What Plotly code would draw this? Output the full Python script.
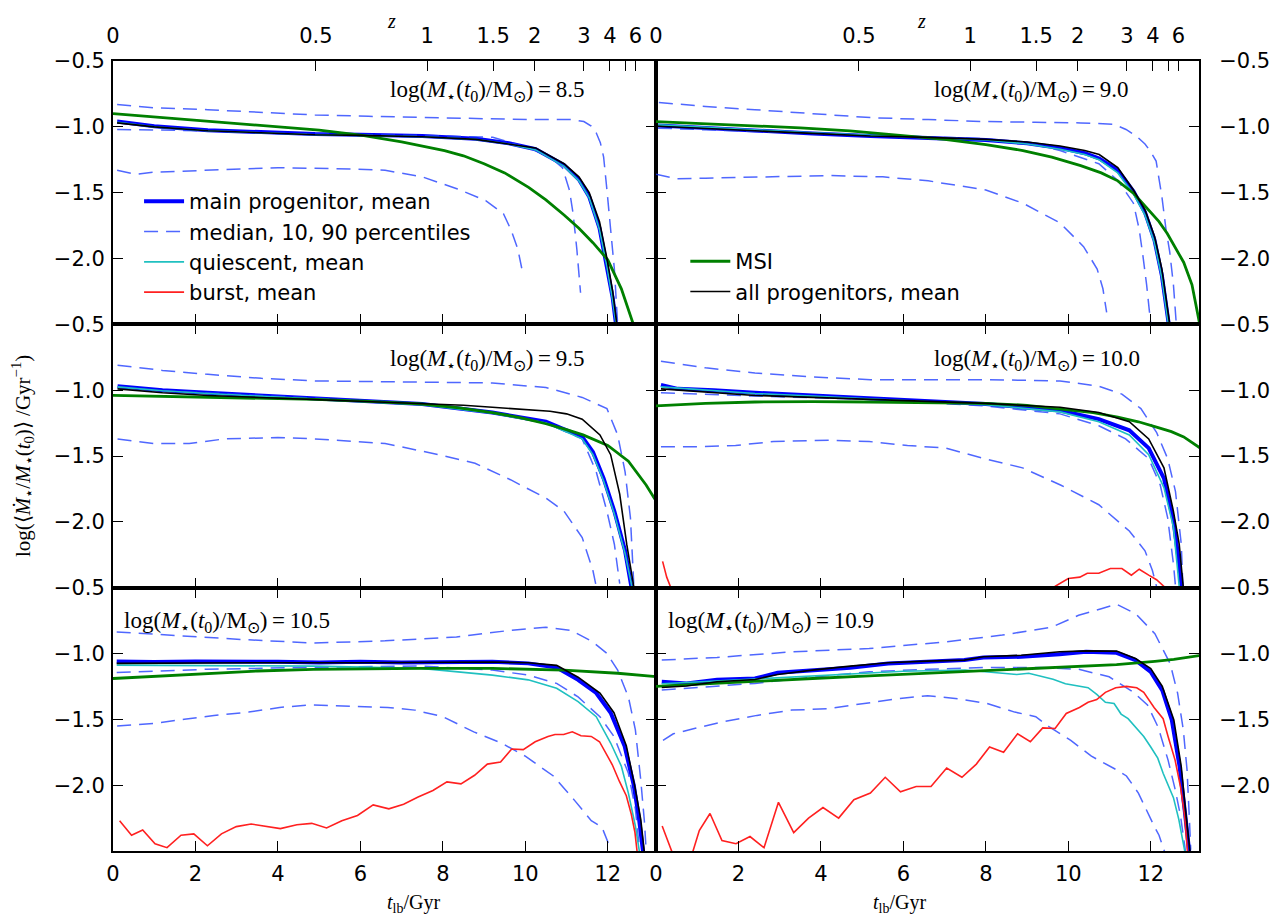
import plotly.graph_objects as go
from plotly.subplots import make_subplots

# ---------------- data ----------------
MASS_LABELS = ["8.5", "9.0", "9.5", "10.0", "10.5", "10.9"]
Z_LABELS = ["0", "0.5", "1", "1.5", "2", "3", "4", "", "6"]
Z_LOOKBACK = [0.0, 4.92, 7.62, 9.22, 10.23, 11.42, 12.05, 12.43, 12.67]
X_TICKS = [0, 2, 4, 6, 8, 10, 12]
Y_TICKS = [-2.0, -1.5, -1.0, -0.5]
Y_TICK_TEXT = ["\u22122.0", "\u22121.5", "\u22121.0", "\u22120.5"]

# ---- log M = 8.5 ----
T_MAIN_85 = [0.1, 1.0, 2.3, 3.5, 4.9, 6.0, 7.5, 8.8, 9.6, 10.25, 10.94, 11.3, 11.55, 11.8, 11.98, 12.12, 12.22, 12.3]
Y_MAIN_85 = [-0.96, -0.995, -1.025, -1.04, -1.055, -1.06, -1.07, -1.09, -1.125, -1.17, -1.29, -1.4, -1.53, -1.77, -2.05, -2.3, -2.55, -2.7]
Y_QUI_85 = [-0.965, -1.0, -1.03, -1.045, -1.06, -1.065, -1.075, -1.095, -1.13, -1.175, -1.3, -1.41, -1.54, -1.78, -2.06, -2.32, -2.57, -2.72]
Y_ALL_85 = [-0.97, -1.0, -1.03, -1.045, -1.06, -1.065, -1.075, -1.095, -1.13, -1.16, -1.28, -1.38, -1.5, -1.72, -2.0, -2.25, -2.5, -2.65]
T_MSI_85 = [0.0, 1.0, 2.3, 3.0, 4.0, 5.0, 6.05, 7.0, 8.04, 8.5, 9.0, 9.5, 10.08, 10.5, 10.94, 11.3, 11.64, 12.0, 12.33, 12.6, 12.75]
Y_MSI_85 = [-0.9, -0.925, -0.957, -0.97, -0.995, -1.025, -1.065, -1.115, -1.18, -1.22, -1.28, -1.35, -1.46, -1.555, -1.67, -1.77, -1.88, -2.01, -2.23, -2.47, -2.62]
T_P90_85 = [0.1, 1.0, 2.3, 3.5, 4.9, 6.2, 7.5, 8.8, 10.08, 11.12, 11.42, 11.6, 11.72, 11.82, 11.9, 11.98, 12.07, 12.16, 12.24]
Y_P90_85 = [-0.83, -0.855, -0.87, -0.89, -0.91, -0.92, -0.93, -0.94, -0.945, -0.945, -0.96, -0.995, -1.045, -1.12, -1.23, -1.48, -1.78, -2.08, -2.5]
T_P50_85 = [0.1, 1.0, 2.3, 4.0, 6.0, 7.5, 9.21, 10.08, 10.6, 10.9, 11.07, 11.16, 11.25, 11.34]
Y_P50_85 = [-1.02, -1.025, -1.03, -1.05, -1.06, -1.065, -1.08, -1.16, -1.23, -1.31, -1.48, -1.66, -1.93, -2.26]
T_P10_85 = [0.1, 0.55, 0.98, 2.3, 4.0, 5.75, 6.6, 7.5, 8.34, 9.04, 9.47, 9.65, 9.82, 9.95]
Y_P10_85 = [-1.33, -1.36, -1.345, -1.33, -1.31, -1.32, -1.33, -1.38, -1.47, -1.56, -1.66, -1.78, -1.93, -2.13]

# ---- log M = 9.0 ----
T_MAIN_90 = [0.05, 1.2, 2.4, 3.8, 5.2, 6.6, 8.0, 9.0, 9.8, 10.4, 10.75, 11.2, 11.58, 11.86, 12.09, 12.27, 12.46, 12.55]
Y_MAIN_90 = [-0.99, -1.01, -1.03, -1.05, -1.07, -1.085, -1.1, -1.125, -1.16, -1.2, -1.24, -1.33, -1.49, -1.65, -1.86, -2.13, -2.55, -2.75]
Y_QUI_90 = [-0.985, -1.005, -1.025, -1.045, -1.065, -1.08, -1.1, -1.13, -1.17, -1.21, -1.25, -1.35, -1.51, -1.67, -1.88, -2.15, -2.58, -2.78]
Y_ALL_90 = [-0.995, -1.01, -1.03, -1.05, -1.07, -1.08, -1.095, -1.115, -1.145, -1.18, -1.21, -1.31, -1.48, -1.63, -1.83, -2.08, -2.48, -2.7]
T_MSI_90 = [0.0, 1.2, 2.4, 3.5, 4.7, 6.0, 7.0, 8.0, 8.9, 9.6, 10.3, 10.8, 11.2, 11.6, 11.95, 12.2, 12.4, 12.6, 12.8, 13.0, 13.15, 13.25]
Y_MSI_90 = [-0.96, -0.975, -0.99, -1.008, -1.03, -1.065, -1.095, -1.135, -1.18, -1.23, -1.295, -1.35, -1.41, -1.51, -1.63, -1.72, -1.81, -1.92, -2.03, -2.2, -2.43, -2.6]
T_P90_90 = [0.07, 1.2, 2.4, 3.8, 5.2, 6.6, 8.0, 9.2, 10.3, 11.1, 11.4, 11.65, 11.86, 12.0, 12.13, 12.27, 12.37, 12.46, 12.55, 12.62]
Y_P90_90 = [-0.815, -0.845, -0.87, -0.9, -0.93, -0.945, -0.96, -0.965, -0.97, -0.98, -1.02, -1.07, -1.13, -1.19, -1.26, -1.53, -1.78, -1.95, -2.2, -2.5]
T_P50_90 = [0.05, 1.2, 2.4, 3.8, 5.2, 6.6, 8.0, 9.0, 9.8, 10.74, 11.21, 11.58, 11.72, 11.81, 11.9, 12.0]
Y_P50_90 = [-1.01, -1.02, -1.035, -1.05, -1.065, -1.08, -1.09, -1.12, -1.18, -1.28, -1.41, -1.58, -1.78, -1.98, -2.2, -2.5]
T_P10_90 = [0.0, 0.5, 1.2, 2.4, 4.2, 5.5, 6.6, 8.0, 8.9, 9.8, 10.37, 10.7, 10.84, 10.93]
Y_P10_90 = [-1.36, -1.395, -1.39, -1.38, -1.37, -1.38, -1.41, -1.48, -1.58, -1.73, -1.91, -2.08, -2.23, -2.41]

# ---- log M = 9.5 ----
T_MAIN_95 = [0.11, 1.2, 2.3, 3.6, 4.9, 6.2, 7.5, 9.2, 10.5, 11.38, 11.64, 11.9, 12.16, 12.42, 12.59, 12.66]
Y_MAIN_95 = [-0.97, -1.0, -1.02, -1.04, -1.06, -1.08, -1.105, -1.17, -1.24, -1.355, -1.47, -1.67, -1.92, -2.22, -2.49, -2.65]
Y_QUI_95 = [-0.975, -1.005, -1.025, -1.045, -1.065, -1.085, -1.11, -1.175, -1.25, -1.37, -1.49, -1.69, -1.94, -2.24, -2.5, -2.66]
T_ALL_95 = [0.11, 1.2, 2.3, 3.6, 4.9, 6.2, 7.5, 8.5, 9.2, 10.0, 10.6, 11.0, 11.38, 11.81, 12.07, 12.29, 12.46, 12.63, 12.7]
Y_ALL_95 = [-0.99, -1.02, -1.04, -1.055, -1.07, -1.085, -1.1, -1.115, -1.13, -1.145, -1.16, -1.18, -1.22, -1.34, -1.49, -1.79, -2.17, -2.49, -2.65]
T_MSI_95 = [0.0, 1.2, 2.3, 3.6, 4.9, 6.2, 7.5, 8.4, 9.2, 9.9, 10.5, 11.0, 11.4, 12.0, 12.5, 12.93, 13.25]
Y_MSI_95 = [-1.04, -1.047, -1.055, -1.062, -1.07, -1.085, -1.105, -1.135, -1.17, -1.21, -1.255, -1.3, -1.34, -1.42, -1.54, -1.72, -1.88]
T_P90_95 = [0.11, 1.2, 2.3, 3.6, 4.9, 6.2, 7.5, 9.2, 10.5, 11.38, 11.98, 12.24, 12.42, 12.55, 12.63]
Y_P90_95 = [-0.81, -0.85, -0.88, -0.91, -0.93, -0.935, -0.94, -0.945, -0.98, -1.055, -1.14, -1.34, -1.62, -1.97, -2.47]
T_P50_95 = [0.11, 1.2, 2.3, 3.6, 4.9, 6.2, 7.5, 9.2, 10.5, 11.38, 11.72, 11.98, 12.16, 12.29]
Y_P50_95 = [-0.98, -1.005, -1.02, -1.04, -1.06, -1.08, -1.1, -1.17, -1.25, -1.37, -1.62, -1.92, -2.17, -2.47]
T_P10_95 = [0.11, 0.98, 1.85, 2.71, 4.0, 4.9, 6.6, 7.9, 8.78, 9.64, 10.5, 10.94, 11.38, 11.64, 11.72]
Y_P10_95 = [-1.37, -1.405, -1.405, -1.37, -1.36, -1.37, -1.405, -1.49, -1.555, -1.68, -1.82, -1.92, -2.12, -2.37, -2.49]

# ---- log M = 10.0 ----
T_MAIN_100 = [0.12, 0.53, 1.4, 2.4, 3.8, 5.2, 6.6, 8.0, 9.8, 10.74, 11.48, 11.95, 12.32, 12.55, 12.69, 12.74, 12.8]
Y_MAIN_100 = [-0.96, -0.99, -1.0, -1.02, -1.04, -1.06, -1.085, -1.105, -1.155, -1.22, -1.305, -1.44, -1.67, -1.99, -2.32, -2.49, -2.65]
T_QUI_100 = [0.12, 1.4, 2.4, 3.8, 5.2, 6.6, 8.0, 9.8, 10.74, 11.48, 11.95, 12.32, 12.55, 12.69, 12.75]
Y_QUI_100 = [-0.975, -1.005, -1.025, -1.045, -1.065, -1.085, -1.11, -1.165, -1.24, -1.34, -1.49, -1.74, -2.04, -2.49, -2.65]
T_ALL_100 = [0.12, 1.4, 2.4, 3.8, 5.2, 6.6, 8.0, 9.8, 10.74, 11.48, 11.95, 12.32, 12.55, 12.69, 12.78, 12.85]
Y_ALL_100 = [-0.99, -1.02, -1.04, -1.055, -1.07, -1.085, -1.1, -1.13, -1.17, -1.24, -1.37, -1.59, -1.92, -2.17, -2.49, -2.7]
T_MSI_100 = [0.0, 1.2, 2.4, 3.8, 5.2, 6.6, 8.0, 9.0, 9.8, 10.6, 11.2, 11.7, 12.14, 12.5, 12.8, 13.25]
Y_MSI_100 = [-1.12, -1.1, -1.09, -1.087, -1.09, -1.094, -1.1, -1.115, -1.14, -1.17, -1.205, -1.24, -1.28, -1.315, -1.355, -1.45]
T_P90_100 = [0.12, 1.2, 2.4, 3.8, 5.2, 6.6, 8.0, 9.8, 10.74, 11.3, 11.76, 12.14, 12.41, 12.6, 12.74, 12.78]
Y_P90_100 = [-0.78, -0.83, -0.87, -0.9, -0.92, -0.922, -0.92, -0.93, -0.97, -1.03, -1.14, -1.32, -1.52, -1.77, -2.17, -2.49]
T_P50_100 = [0.12, 2.4, 5.2, 8.0, 9.8, 10.74, 11.39, 11.95, 12.23, 12.41, 12.55, 12.6]
Y_P50_100 = [-1.02, -1.045, -1.07, -1.12, -1.18, -1.27, -1.37, -1.52, -1.72, -1.97, -2.32, -2.49]
T_P10_100 = [0.12, 1.0, 1.93, 2.85, 4.25, 5.17, 6.1, 7.03, 7.96, 8.89, 9.81, 10.74, 11.48, 11.86, 12.04, 12.14]
Y_P10_100 = [-1.43, -1.43, -1.42, -1.39, -1.38, -1.39, -1.42, -1.44, -1.52, -1.59, -1.72, -1.87, -2.07, -2.22, -2.37, -2.49]
T_BUR_100 = [0.16, 0.26, 0.36, 0.45, None, 9.55, 9.68, 10.0, 10.28, 10.46, 10.74, 11.02, 11.3, 11.53, 11.72, 11.95, 12.14, 12.32, 12.45]
Y_BUR_100 = [-2.3, -2.42, -2.5, -2.62, None, -2.6, -2.49, -2.43, -2.42, -2.39, -2.39, -2.355, -2.355, -2.405, -2.36, -2.405, -2.44, -2.49, -2.6]

# ---- log M = 10.5 ----
T_MAIN_105 = [0.09, 1.0, 2.0, 3.0, 4.0, 5.0, 6.0, 7.0, 8.0, 9.2, 10.07, 10.76, 11.28, 11.72, 12.07, 12.41, 12.63, 12.76, 12.85, 12.92]
Y_MAIN_105 = [-1.06, -1.065, -1.06, -1.058, -1.063, -1.068, -1.062, -1.068, -1.066, -1.063, -1.075, -1.106, -1.2, -1.3, -1.45, -1.705, -2.0, -2.26, -2.49, -2.65]
T_QUI_105 = [0.09, 2.0, 4.86, 7.47, 8.33, 9.2, 10.07, 10.76, 11.28, 11.72, 12.07, 12.33, 12.5, 12.67, 12.76, 12.82]
Y_QUI_105 = [-1.088, -1.09, -1.096, -1.113, -1.139, -1.164, -1.2, -1.264, -1.365, -1.48, -1.68, -1.856, -2.06, -2.31, -2.49, -2.62]
T_ALL_105 = [0.09, 2.0, 4.0, 6.0, 8.0, 9.2, 10.07, 10.76, 11.28, 11.81, 12.15, 12.45, 12.65, 12.8, 12.88, 12.95]
Y_ALL_105 = [-1.075, -1.07, -1.07, -1.07, -1.068, -1.065, -1.07, -1.09, -1.18, -1.3, -1.45, -1.7, -2.0, -2.26, -2.49, -2.65]
T_MSI_105 = [0.0, 1.2, 2.26, 3.5, 4.86, 6.2, 7.47, 9.2, 10.94, 12.24, 13.25]
Y_MSI_105 = [-1.19, -1.17, -1.15, -1.133, -1.12, -1.115, -1.113, -1.113, -1.126, -1.15, -1.178]
T_P90_105 = [0.09, 1.39, 3.13, 4.86, 6.6, 8.33, 9.64, 10.5, 11.11, 11.63, 11.98, 12.24, 12.5, 12.67, 12.8, 12.89, 12.93]
Y_P90_105 = [-0.836, -0.86, -0.894, -0.92, -0.904, -0.874, -0.824, -0.8, -0.824, -0.91, -1.0, -1.126, -1.33, -1.58, -1.96, -2.28, -2.49]
T_P50_105 = [0.09, 2.26, 4.86, 7.47, 9.2, 10.07, 10.76, 11.28, 11.81, 12.15, 12.5, 12.67, 12.76]
Y_P50_105 = [-1.145, -1.12, -1.105, -1.095, -1.126, -1.164, -1.227, -1.33, -1.48, -1.63, -1.91, -2.18, -2.46]
T_P10_105 = [0.1, 1.02, 1.73, 2.45, 3.29, 4.04, 4.8, 5.81, 6.66, 7.32, 8.0, 8.75, 9.42, 10.0, 10.68, 11.18, 11.6, 11.86, 12.0, 12.05]
Y_P10_105 = [-1.55, -1.53, -1.5, -1.47, -1.445, -1.41, -1.39, -1.4, -1.41, -1.43, -1.48, -1.595, -1.68, -1.78, -1.93, -2.11, -2.27, -2.32, -2.43, -2.52]
T_BUR_105 = [0.16, 0.45, 0.72, 1.02, 1.31, 1.65, 1.96, 2.29, 2.63, 2.99, 3.35, 3.71, 4.06, 4.46, 4.82, 5.18, 5.55, 5.93, 6.31, 6.69, 7.05, 7.4, 7.76, 8.1, 8.44, 8.77, 9.08, 9.4, 9.67, 9.95, 10.24, 10.55, 10.72, 10.93, 11.14, 11.35, 11.6, 11.8, 11.94, 12.11, 12.28, 12.45, 12.57, 12.66, 12.71, 12.78]
Y_BUR_105 = [-2.27, -2.38, -2.34, -2.445, -2.475, -2.38, -2.37, -2.46, -2.37, -2.315, -2.295, -2.31, -2.33, -2.3, -2.29, -2.325, -2.27, -2.23, -2.15, -2.18, -2.145, -2.09, -2.04, -1.975, -1.99, -1.925, -1.84, -1.825, -1.725, -1.73, -1.67, -1.63, -1.615, -1.615, -1.595, -1.625, -1.63, -1.67, -1.745, -1.845, -1.97, -2.08, -2.22, -2.36, -2.5, -2.7]

# ---- log M = 10.9 ----
T_MAIN_109 = [0.14, 0.74, 1.48, 2.4, 2.95, 3.79, 4.71, 5.63, 6.56, 7.48, 7.94, 8.86, 9.79, 10.43, 11.17, 11.63, 12.0, 12.28, 12.51, 12.7, 12.83, 12.93, 13.0]
Y_MAIN_109 = [-1.215, -1.227, -1.2, -1.19, -1.146, -1.131, -1.109, -1.076, -1.063, -1.05, -1.03, -1.025, -1.005, -0.987, -0.995, -1.05, -1.14, -1.28, -1.505, -1.86, -2.21, -2.49, -2.7]
T_ALL_109 = [0.14, 0.74, 1.48, 2.4, 2.95, 3.79, 4.71, 5.63, 6.56, 7.48, 7.94, 8.86, 9.79, 10.43, 11.17, 11.63, 12.0, 12.28, 12.56, 12.74, 12.85, 12.95, 13.02]
Y_ALL_109 = [-1.258, -1.247, -1.215, -1.197, -1.16, -1.126, -1.096, -1.07, -1.058, -1.05, -1.025, -1.013, -0.987, -0.98, -0.982, -1.038, -1.114, -1.25, -1.505, -1.86, -2.21, -2.49, -2.7]
T_QUI_109 = [0.14, 2.0, 4.0, 6.0, 7.5, 8.45, 8.75, 9.04, 9.3, 9.63, 9.93, 10.22, 10.48, 10.69, 10.9, 11.11, 11.28, 11.45, 11.66, 11.83, 12.0, 12.17, 12.3, 12.42, 12.55, 12.68, 12.76, 12.83]
Y_QUI_109 = [-1.23, -1.2, -1.165, -1.135, -1.125, -1.15, -1.16, -1.15, -1.17, -1.195, -1.23, -1.245, -1.26, -1.31, -1.37, -1.38, -1.46, -1.495, -1.57, -1.63, -1.71, -1.795, -1.91, -1.995, -2.095, -2.26, -2.41, -2.51]
T_MSI_109 = [0.0, 1.2, 2.4, 3.8, 5.17, 6.6, 7.94, 9.0, 9.79, 10.5, 11.17, 12.1, 12.56, 13.25]
Y_MSI_109 = [-1.25, -1.23, -1.21, -1.19, -1.17, -1.15, -1.13, -1.117, -1.105, -1.095, -1.085, -1.06, -1.045, -1.012]
T_P90_109 = [0.14, 1.48, 3.32, 5.17, 7.02, 8.4, 9.6, 10.25, 10.8, 11.17, 11.63, 12.1, 12.47, 12.65, 12.79, 12.88, 12.93, 12.97]
Y_P90_109 = [-1.05, -1.03, -0.987, -0.962, -0.912, -0.86, -0.8, -0.71, -0.66, -0.626, -0.697, -0.85, -1.076, -1.3, -1.58, -1.884, -2.21, -2.49]
T_P50_109 = [0.14, 1.2, 2.4, 3.8, 5.17, 6.6, 7.94, 9.33, 10.25, 10.99, 11.58, 11.92, 12.18, 12.42, 12.59, 12.72, 12.8, 12.85]
Y_P50_109 = [-1.278, -1.255, -1.227, -1.18, -1.139, -1.12, -1.106, -1.106, -1.12, -1.177, -1.295, -1.39, -1.56, -1.81, -2.03, -2.23, -2.41, -2.52]
T_P10_109 = [0.17, 0.42, 0.93, 1.6, 2.45, 3.29, 4.14, 4.98, 5.83, 6.59, 7.35, 8.03, 8.7, 9.21, 9.55, 10.06, 10.56, 11.15, 11.41, 11.7, 11.92, 12.08, 12.2, 12.34]
Y_P10_109 = [-1.66, -1.61, -1.57, -1.52, -1.47, -1.43, -1.42, -1.38, -1.345, -1.32, -1.345, -1.38, -1.445, -1.48, -1.56, -1.66, -1.78, -1.88, -1.93, -2.06, -2.21, -2.31, -2.38, -2.51]
T_BUR_109 = [0.15, 0.5, 0.8, 1.05, 1.31, 1.6, 1.94, 2.28, 2.62, 2.97, 3.34, 3.7, 4.05, 4.43, 4.8, 5.2, 5.56, 5.93, 6.31, 6.67, 7.05, 7.42, 7.77, 8.09, 8.43, 8.77, 9.08, 9.38, 9.68, 9.95, 10.27, 10.48, 10.69, 10.9, 11.15, 11.41, 11.66, 11.83, 12.08, 12.3, 12.42, 12.59, 12.72, 12.82, 12.89, 12.95]
Y_BUR_109 = [-2.31, -2.6, -2.6, -2.345, -2.215, -2.42, -2.445, -2.39, -2.475, -2.13, -2.36, -2.25, -2.17, -2.25, -2.11, -2.06, -1.94, -2.05, -2.01, -2.01, -1.87, -1.94, -1.84, -1.71, -1.75, -1.61, -1.67, -1.565, -1.57, -1.455, -1.41, -1.37, -1.35, -1.295, -1.26, -1.25, -1.26, -1.295, -1.41, -1.495, -1.63, -1.81, -2.01, -2.23, -2.5, -2.7]

# ---------------- panel table built from the arrays ----------------
PANELS = [
    dict(row=1, col=1, mass=MASS_LABELS[0],
         main=(T_MAIN_85, Y_MAIN_85), p90=(T_P90_85, Y_P90_85), p50=(T_P50_85, Y_P50_85), p10=(T_P10_85, Y_P10_85),
         qui=(T_MAIN_85, Y_QUI_85), bur=None, msi=(T_MSI_85, Y_MSI_85), all=(T_MAIN_85, Y_ALL_85)),
    dict(row=1, col=2, mass=MASS_LABELS[1],
         main=(T_MAIN_90, Y_MAIN_90), p90=(T_P90_90, Y_P90_90), p50=(T_P50_90, Y_P50_90), p10=(T_P10_90, Y_P10_90),
         qui=(T_MAIN_90, Y_QUI_90), bur=None, msi=(T_MSI_90, Y_MSI_90), all=(T_MAIN_90, Y_ALL_90)),
    dict(row=2, col=1, mass=MASS_LABELS[2],
         main=(T_MAIN_95, Y_MAIN_95), p90=(T_P90_95, Y_P90_95), p50=(T_P50_95, Y_P50_95), p10=(T_P10_95, Y_P10_95),
         qui=(T_MAIN_95, Y_QUI_95), bur=None, msi=(T_MSI_95, Y_MSI_95), all=(T_ALL_95, Y_ALL_95)),
    dict(row=2, col=2, mass=MASS_LABELS[3],
         main=(T_MAIN_100, Y_MAIN_100), p90=(T_P90_100, Y_P90_100), p50=(T_P50_100, Y_P50_100), p10=(T_P10_100, Y_P10_100),
         qui=(T_QUI_100, Y_QUI_100), bur=(T_BUR_100, Y_BUR_100), msi=(T_MSI_100, Y_MSI_100), all=(T_ALL_100, Y_ALL_100)),
    dict(row=3, col=1, mass=MASS_LABELS[4],
         main=(T_MAIN_105, Y_MAIN_105), p90=(T_P90_105, Y_P90_105), p50=(T_P50_105, Y_P50_105), p10=(T_P10_105, Y_P10_105),
         qui=(T_QUI_105, Y_QUI_105), bur=(T_BUR_105, Y_BUR_105), msi=(T_MSI_105, Y_MSI_105), all=(T_ALL_105, Y_ALL_105)),
    dict(row=3, col=2, mass=MASS_LABELS[5],
         main=(T_MAIN_109, Y_MAIN_109), p90=(T_P90_109, Y_P90_109), p50=(T_P50_109, Y_P50_109), p10=(T_P10_109, Y_P10_109),
         qui=(T_QUI_109, Y_QUI_109), bur=(T_BUR_109, Y_BUR_109), msi=(T_MSI_109, Y_MSI_109), all=(T_ALL_109, Y_ALL_109)),
]

# ---------------- styling ----------------
SANS = "DejaVu Sans"
SERIF = "Liberation Serif"
FS = 21
C_MAIN = "#0000ff"
C_PCT = "rgba(30,60,255,0.78)"
C_QUI = "#20c0c0"
C_BUR = "#ff2020"
C_MSI = "#008000"
C_ALL = "#000000"
XMAX = 13.17

fig = make_subplots(rows=3, cols=2, horizontal_spacing=0, vertical_spacing=0)


def add(p, key, color, width, name, legend=None, dash=None, show=False):
    data = p[key]
    if data is None:
        return
    t, y = data
    fig.add_trace(go.Scatter(
        x=t, y=y, mode="lines", name=name,
        line=dict(color=color, width=width, dash=dash),
        showlegend=show, legend=legend, hoverinfo="skip"),
        row=p["row"], col=p["col"])


for p in PANELS:
    first = p["mass"] == MASS_LABELS[0]
    second = p["mass"] == MASS_LABELS[1]
    burst_leg = p["mass"] == MASS_LABELS[4]
    add(p, "main", C_MAIN, 4, "main progenitor, mean", "legend", show=first)
    add(p, "p90", C_PCT, 1.5, "median, 10, 90 percentiles", "legend", dash="14px,8px", show=first)
    add(p, "p50", C_PCT, 1.5, "median", None, dash="14px,8px")
    add(p, "p10", C_PCT, 1.5, "10 percentile", None, dash="14px,8px")
    add(p, "qui", C_QUI, 1.6, "quiescent, mean", "legend", show=first)
    add(p, "bur", C_BUR, 1.6, "burst, mean", "legend", show=burst_leg)
    add(p, "msi", C_MSI, 2.8, "MSI", "legend2", show=second)
    add(p, "all", C_ALL, 1.6, "all progenitors, mean", "legend2", show=second)

# axes
for r in (1, 2, 3):
    for c in (1, 2):
        fig.update_xaxes(
            row=r, col=c, range=[0, XMAX], tickmode="array", tickvals=X_TICKS,
            ticktext=[str(v) for v in X_TICKS], showticklabels=(r == 3),
            ticks="inside", ticklen=10, tickwidth=1.3, tickcolor="black",
            showline=True, linecolor="black", linewidth=2,
            mirror=(True if r == 1 else "ticks"), showgrid=False, zeroline=False,
            tickfont=dict(family=SANS, size=FS, color="black"), ticklabelstandoff=3)
        fig.update_yaxes(
            row=r, col=c, range=[-2.5, -0.5], tickmode="array", tickvals=Y_TICKS,
            ticktext=Y_TICK_TEXT, side=("left" if c == 1 else "right"),
            ticks="inside", ticklen=10, tickwidth=1.3, tickcolor="black",
            showline=True, linecolor="black", linewidth=2, mirror="ticks",
            showgrid=False, zeroline=False,
            tickfont=dict(family=SANS, size=FS, color="black"),
            ticklabelstandoff=(2 if c == 1 else 14))

# top redshift axes
for ax_name, base_x, base_y in (("xaxis7", "x", "y"), ("xaxis8", "x2", "y2")):
    fig.update_layout(**{ax_name: dict(
        overlaying=base_x, anchor=base_y, side="top", range=[0, XMAX],
        tickmode="array", tickvals=Z_LOOKBACK, ticktext=Z_LABELS,
        ticks="inside", ticklen=10, tickwidth=1.3, tickcolor="black",
        showline=True, linecolor="black", linewidth=2, showgrid=False, zeroline=False,
        tickfont=dict(family=SANS, size=FS, color="black"), ticklabelstandoff=8)})
fig.add_trace(go.Scatter(x=[None], y=[None], xaxis="x7", yaxis="y", showlegend=False, hoverinfo="skip"))
fig.add_trace(go.Scatter(x=[None], y=[None], xaxis="x8", yaxis="y2", showlegend=False, hoverinfo="skip"))

# panel labels
LABEL_POS = {1: (6.68, -0.73), 2: (6.7, -0.73), 3: (6.68, -0.77),
             4: (6.7, -0.77), 5: (0.22, -0.76), 6: (0.25, -0.76)}
for i, p in enumerate(PANELS, start=1):
    x0, y0 = LABEL_POS[i]
    suffix = "" if i == 1 else str(i)
    fig.add_annotation(
        x=x0, y=y0, xref="x" + suffix, yref="y" + suffix, xanchor="left", yanchor="middle",
        text="log(<i>M</i><sub>\u22c6</sub>(<i>t</i><sub>0</sub>)/M<sub>\u2299</sub>)\u2009=\u2009" + p["mass"],
        showarrow=False, font=dict(family=SERIF, size=23, color="black"))

# axis titles
for xc in (0.25, 0.75):
    fig.add_annotation(x=xc, y=1, xref="paper", yref="paper", yanchor="top", yshift=53,
                       text="<i>z</i>", showarrow=False, font=dict(family=SERIF, size=20, color="black"))
    fig.add_annotation(x=xc, y=0, xref="paper", yref="paper", yanchor="middle", yshift=-52,
                       text="<i>t</i><sub>lb</sub>/Gyr", showarrow=False,
                       font=dict(family=SERIF, size=20, color="black"))
fig.add_annotation(x=0, y=0.5, xref="paper", yref="paper", xanchor="center", yanchor="middle",
                   xshift=-91, textangle=-90, showarrow=False,
                   text="log(\u27e8<i>\u1e40</i><sub>\u22c6</sub>/<i>M</i><sub>\u22c6</sub>(<i>t</i><sub>0</sub>)\u27e9 /Gyr<sup>\u22121</sup>)",
                   font=dict(family=SERIF, size=21, color="black"))

# the page adds an 8px body margin, so the figure is 8px smaller and margins shifted
fig.update_layout(
    width=1277, height=915,
    margin=dict(l=105, r=86, t=53, b=72),
    paper_bgcolor="white", plot_bgcolor="white",
    legend=dict(x=0.024, y=0.848, xanchor="left", yanchor="top", bgcolor="rgba(0,0,0,0)",
                font=dict(family=SANS, size=FS, color="black"), itemwidth=40, tracegroupgap=0),
    legend2=dict(x=0.527, y=0.772, xanchor="left", yanchor="top", bgcolor="rgba(0,0,0,0)",
                 font=dict(family=SANS, size=FS, color="black"), itemwidth=40),
)

fig.write_html("out.html")
